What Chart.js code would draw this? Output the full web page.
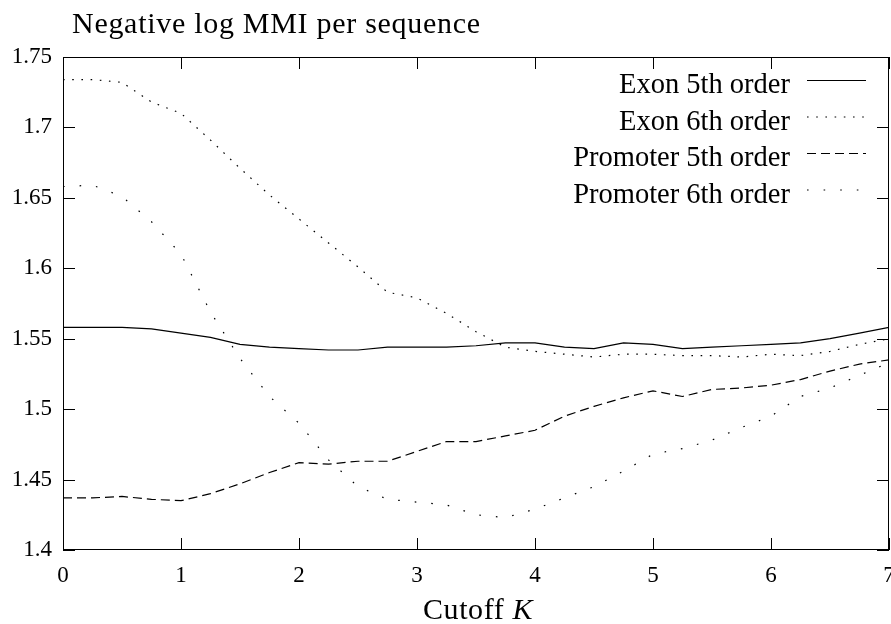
<!DOCTYPE html>
<html lang="en">
<head>
  <meta charset="UTF-8">
  <title>Negative log MMI per sequence</title>
  <script src="https://cdn.jsdelivr.net/npm/chart.js"></script>
  <style>
    body { margin: 0; background: #fff; }
    canvas { display: block; }
  </style>
</head>
<body>
  <canvas id="grafico" width="891" height="624"></canvas>
  <script>
    // cutoff K values (x)
    const cutoffs = [0, 0.25, 0.5, 0.75, 1, 1.25, 1.5, 1.75, 2, 2.25, 2.5, 2.75, 3, 3.25, 3.5,
      3.75, 4, 4.25, 4.5, 4.75, 5, 5.25, 5.5, 5.75, 6, 6.25, 6.5, 6.75, 7];

    const exon5 = [1.558, 1.558, 1.558, 1.557, 1.554, 1.551, 1.546, 1.544, 1.543, 1.542, 1.542, 1.544, 1.544, 1.544, 1.545,
      1.547, 1.547, 1.544, 1.543, 1.547, 1.546, 1.543, 1.544, 1.545, 1.546, 1.547, 1.550, 1.554, 1.558];
    const exon6 = [1.734, 1.734, 1.732, 1.718, 1.710, 1.691, 1.671, 1.652, 1.635, 1.618, 1.601, 1.583, 1.579, 1.568, 1.555,
      1.544, 1.541, 1.539, 1.537, 1.539, 1.539, 1.538, 1.538, 1.537, 1.539, 1.538, 1.541, 1.546, 1.550];
    const promoter5 = [1.437, 1.437, 1.438, 1.436, 1.435, 1.440, 1.447, 1.455, 1.462, 1.461, 1.463, 1.463, 1.470, 1.477, 1.477,
      1.481, 1.485, 1.495, 1.502, 1.508, 1.513, 1.509, 1.514, 1.515, 1.517, 1.521, 1.527, 1.532, 1.535];
    const promoter6 = [1.658, 1.659, 1.651, 1.633, 1.610, 1.569, 1.536, 1.509, 1.490, 1.464, 1.445, 1.436, 1.434, 1.432, 1.425,
      1.423, 1.429, 1.437, 1.445, 1.456, 1.468, 1.472, 1.478, 1.487, 1.495, 1.509, 1.515, 1.524, 1.533];

    const seriesNames = ['Exon 5th order', 'Exon 6th order', 'Promoter 5th order', 'Promoter 6th order'];
    const xTicks = [0, 1, 2, 3, 4, 5, 6, 7];
    const yTicks = [1.4, 1.45, 1.5, 1.55, 1.6, 1.65, 1.7, 1.75];

    const titulo = 'Negative log MMI per sequence';
    const eixoX = 'Cutoff ';
    const eixoXVar = 'K';

    const serif = '"Liberation Serif", "DejaVu Serif", serif';
    const tracos = [[], [1.6, 7.6], [9, 5], [1.6, 15]];

    const pares = vals => vals.map((v, i) => ({ x: cutoffs[i], y: v }));
    const datasets = [exon5, exon6, promoter5, promoter6].map((vals, i) => ({
      label: seriesNames[i],
      data: pares(vals),
      borderColor: '#000',
      borderWidth: 1.2,
      borderDash: tracos[i],
      borderCapStyle: 'butt',
      pointRadius: 0,
      tension: 0,
      fill: false
    }));

    // texto com espacamento ajustado para uma largura alvo
    function textoLargo(ctx, txt, x, y, largura) {
      ctx.letterSpacing = '0px';
      const w = ctx.measureText(txt).width;
      const extra = (largura - w) / Math.max(txt.length - 1, 1);
      ctx.letterSpacing = extra.toFixed(2) + 'px';
      ctx.fillText(txt, x, y);
      ctx.letterSpacing = '0px';
    }

    // moldura, marcas internas, titulo, rotulo do eixo e legenda
    const extras = {
      id: 'extras',
      afterDraw(chart) {
        const ctx = chart.ctx;
        const a = chart.chartArea;
        const sx = chart.scales.x, sy = chart.scales.y;
        ctx.save();
        ctx.strokeStyle = '#000';
        ctx.lineWidth = 1;
        ctx.setLineDash([]);
        ctx.strokeRect(a.left + 0.5, a.top + 0.5, a.right - a.left - 1, a.bottom - a.top - 1);

        ctx.beginPath();
        xTicks.forEach(v => {
          const px = Math.round(sx.getPixelForValue(v)) + 0.5;
          ctx.moveTo(px, a.bottom); ctx.lineTo(px, a.bottom - 12);
          ctx.moveTo(px, a.top); ctx.lineTo(px, a.top + 12);
        });
        yTicks.forEach(v => {
          const py = Math.round(sy.getPixelForValue(v)) + 0.5;
          ctx.moveTo(a.left, py); ctx.lineTo(a.left + 12, py);
          ctx.moveTo(a.right, py); ctx.lineTo(a.right - 12, py);
        });
        ctx.stroke();

        ctx.fillStyle = '#000';
        ctx.textBaseline = 'alphabetic';
        ctx.textAlign = 'left';
        ctx.font = '30px ' + serif;
        textoLargo(ctx, titulo, 72, 33, 408);

        // "Cutoff K" com K em italico
        ctx.font = '30px ' + serif;
        ctx.letterSpacing = '0.6px';
        const w1 = ctx.measureText(eixoX).width;
        ctx.font = 'italic 30px ' + serif;
        const w2 = ctx.measureText(eixoXVar).width;
        const cx = (a.left + a.right) / 2 + 2;
        const x0 = cx - (w1 + w2) / 2;
        ctx.font = '30px ' + serif;
        ctx.fillText(eixoX, x0, 619);
        ctx.font = 'italic 30px ' + serif;
        ctx.fillText(eixoXVar, x0 + w1, 619);
        ctx.letterSpacing = '0px';

        ctx.font = '28.5px ' + serif;
        ctx.textAlign = 'right';
        chart.data.datasets.forEach((ds, i) => {
          const ly = 80 + i * 36.5;
          ctx.fillText(ds.label, 790, ly + 13);
          ctx.beginPath();
          ctx.lineWidth = ds.borderWidth;
          ctx.setLineDash(ds.borderDash);
          ctx.lineCap = 'butt';
          ctx.moveTo(807, ly + 0.5);
          ctx.lineTo(866, ly + 0.5);
          ctx.stroke();
        });
        ctx.restore();
      }
    };

    new Chart(document.getElementById('grafico'), {
      type: 'line',
      data: { datasets },
      options: {
        responsive: false,
        animation: false,
        devicePixelRatio: 1,
        layout: { padding: { top: 57, right: 2, left: 0, bottom: 0 } },
        plugins: { legend: { display: false }, tooltip: { enabled: false }, title: { display: false } },
        scales: {
          x: {
            type: 'linear',
            min: 0,
            max: 7,
            grid: { display: false, drawTicks: false },
            border: { display: false },
            afterBuildTicks: s => { s.ticks = xTicks.map(v => ({ value: v })); },
            afterFit: s => { s.height = 74; s.paddingLeft = 0; s.paddingRight = 0; },
            ticks: {
              color: '#000',
              padding: 12,
              maxRotation: 0,
              autoSkip: false,
              font: { family: serif, size: 23 },
              callback: v => String(v)
            }
          },
          y: {
            type: 'linear',
            min: 1.4,
            max: 1.75,
            grid: { display: false, drawTicks: false },
            border: { display: false },
            afterBuildTicks: s => { s.ticks = yTicks.map(v => ({ value: v })); },
            afterFit: s => { s.width = 63; s.paddingTop = 0; s.paddingBottom = 0; },
            ticks: {
              color: '#000',
              padding: 11,
              autoSkip: false,
              font: { family: serif, size: 23 },
              callback: v => String(v)
            }
          }
        }
      },
      plugins: [extras]
    });
  </script>
</body>
</html>
